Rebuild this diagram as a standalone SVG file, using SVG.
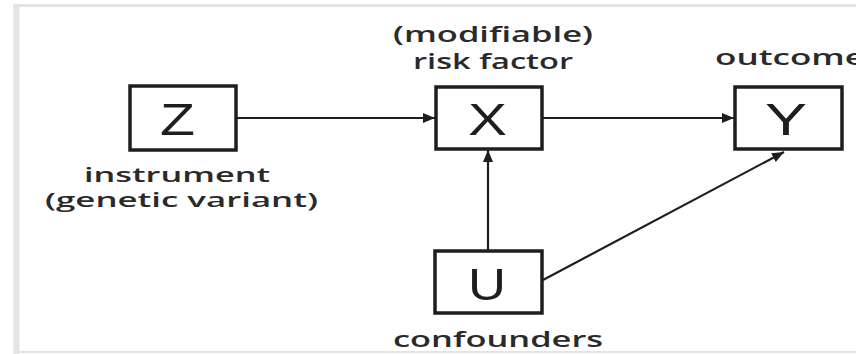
<svg xmlns="http://www.w3.org/2000/svg" width="856" height="354" viewBox="0 0 856 354">
  <defs>
    <style>
      .frame { fill: none; stroke: #e4e4e4; }
      .box { fill: #ffffff; stroke: #1e1e1e; stroke-width: 3.5; }
      .sym { font-family: "Liberation Sans", Arial, sans-serif; font-size: 45px; fill: #1e1e1e; text-anchor: middle; }
      .lbl { font-family: "Open Sans", "Liberation Sans", sans-serif; font-size: 22px; font-weight: 600; fill: #2a2a2a; }
      .edge { fill: none; stroke: #1e1e1e; stroke-width: 2.2; marker-end: url(#head); }
    </style>
    <marker id="head" viewBox="0 0 12 10" refX="12" refY="5" markerWidth="12" markerHeight="10" markerUnits="userSpaceOnUse" orient="auto">
      <path d="M0,0 L12,5 L0,10 Z" fill="#1e1e1e"/>
    </marker>
  </defs>

  <rect width="856" height="354" fill="#ffffff"/>

  <!-- outer frame -->
  <g id="frame">
    <line class="frame" x1="13" y1="5.5" x2="856" y2="5.5" stroke-width="3"/>
    <line class="frame" x1="16.5" y1="4" x2="16.5" y2="354" stroke-width="6"/>
    <line class="frame" x1="13" y1="352" x2="856" y2="352" stroke-width="2"/>
  </g>

  <!-- connectors -->
  <g id="edges">
    <line class="edge" x1="237" y1="118" x2="435" y2="118"/>
    <line class="edge" x1="543" y1="118" x2="734" y2="118"/>
    <line class="edge" x1="488" y1="250" x2="488" y2="150"/>
    <line class="edge" x1="543" y1="280" x2="784" y2="152"/>
  </g>

  <!-- instrument -->
  <g id="node-Z">
    <rect class="box" x="130" y="86" width="106" height="64"/>
    <text class="sym" x="177.5" y="135" textLength="35" lengthAdjust="spacingAndGlyphs">Z</text>
    <text class="lbl" style="font-size:20px"><tspan x="84" y="182" textLength="186" lengthAdjust="spacingAndGlyphs">instrument</tspan><tspan x="45" y="207" textLength="273" lengthAdjust="spacingAndGlyphs">(genetic variant)</tspan></text>
  </g>

  <!-- risk factor -->
  <g id="node-X">
    <rect class="box" x="436" y="87" width="106" height="62"/>
    <text class="sym" x="487.5" y="135" textLength="39" lengthAdjust="spacingAndGlyphs">X</text>
    <text class="lbl"><tspan x="393" y="42" textLength="200" lengthAdjust="spacingAndGlyphs">(modifiable)</tspan><tspan x="413" y="69" textLength="160" lengthAdjust="spacingAndGlyphs">risk factor</tspan></text>
  </g>

  <!-- outcome -->
  <g id="node-Y">
    <rect class="box" x="735" y="87" width="107" height="62"/>
    <text class="sym" x="786" y="135" textLength="42" lengthAdjust="spacingAndGlyphs">Y</text>
    <text class="lbl" x="715" y="65" textLength="150" lengthAdjust="spacingAndGlyphs">outcome</text>
  </g>

  <!-- confounders -->
  <g id="node-U">
    <rect class="box" x="435" y="251" width="107" height="62"/>
    <text class="sym" x="487" y="300" textLength="38" lengthAdjust="spacingAndGlyphs">U</text>
    <text class="lbl" x="393" y="347" textLength="210" lengthAdjust="spacingAndGlyphs">confounders</text>
  </g>
</svg>
